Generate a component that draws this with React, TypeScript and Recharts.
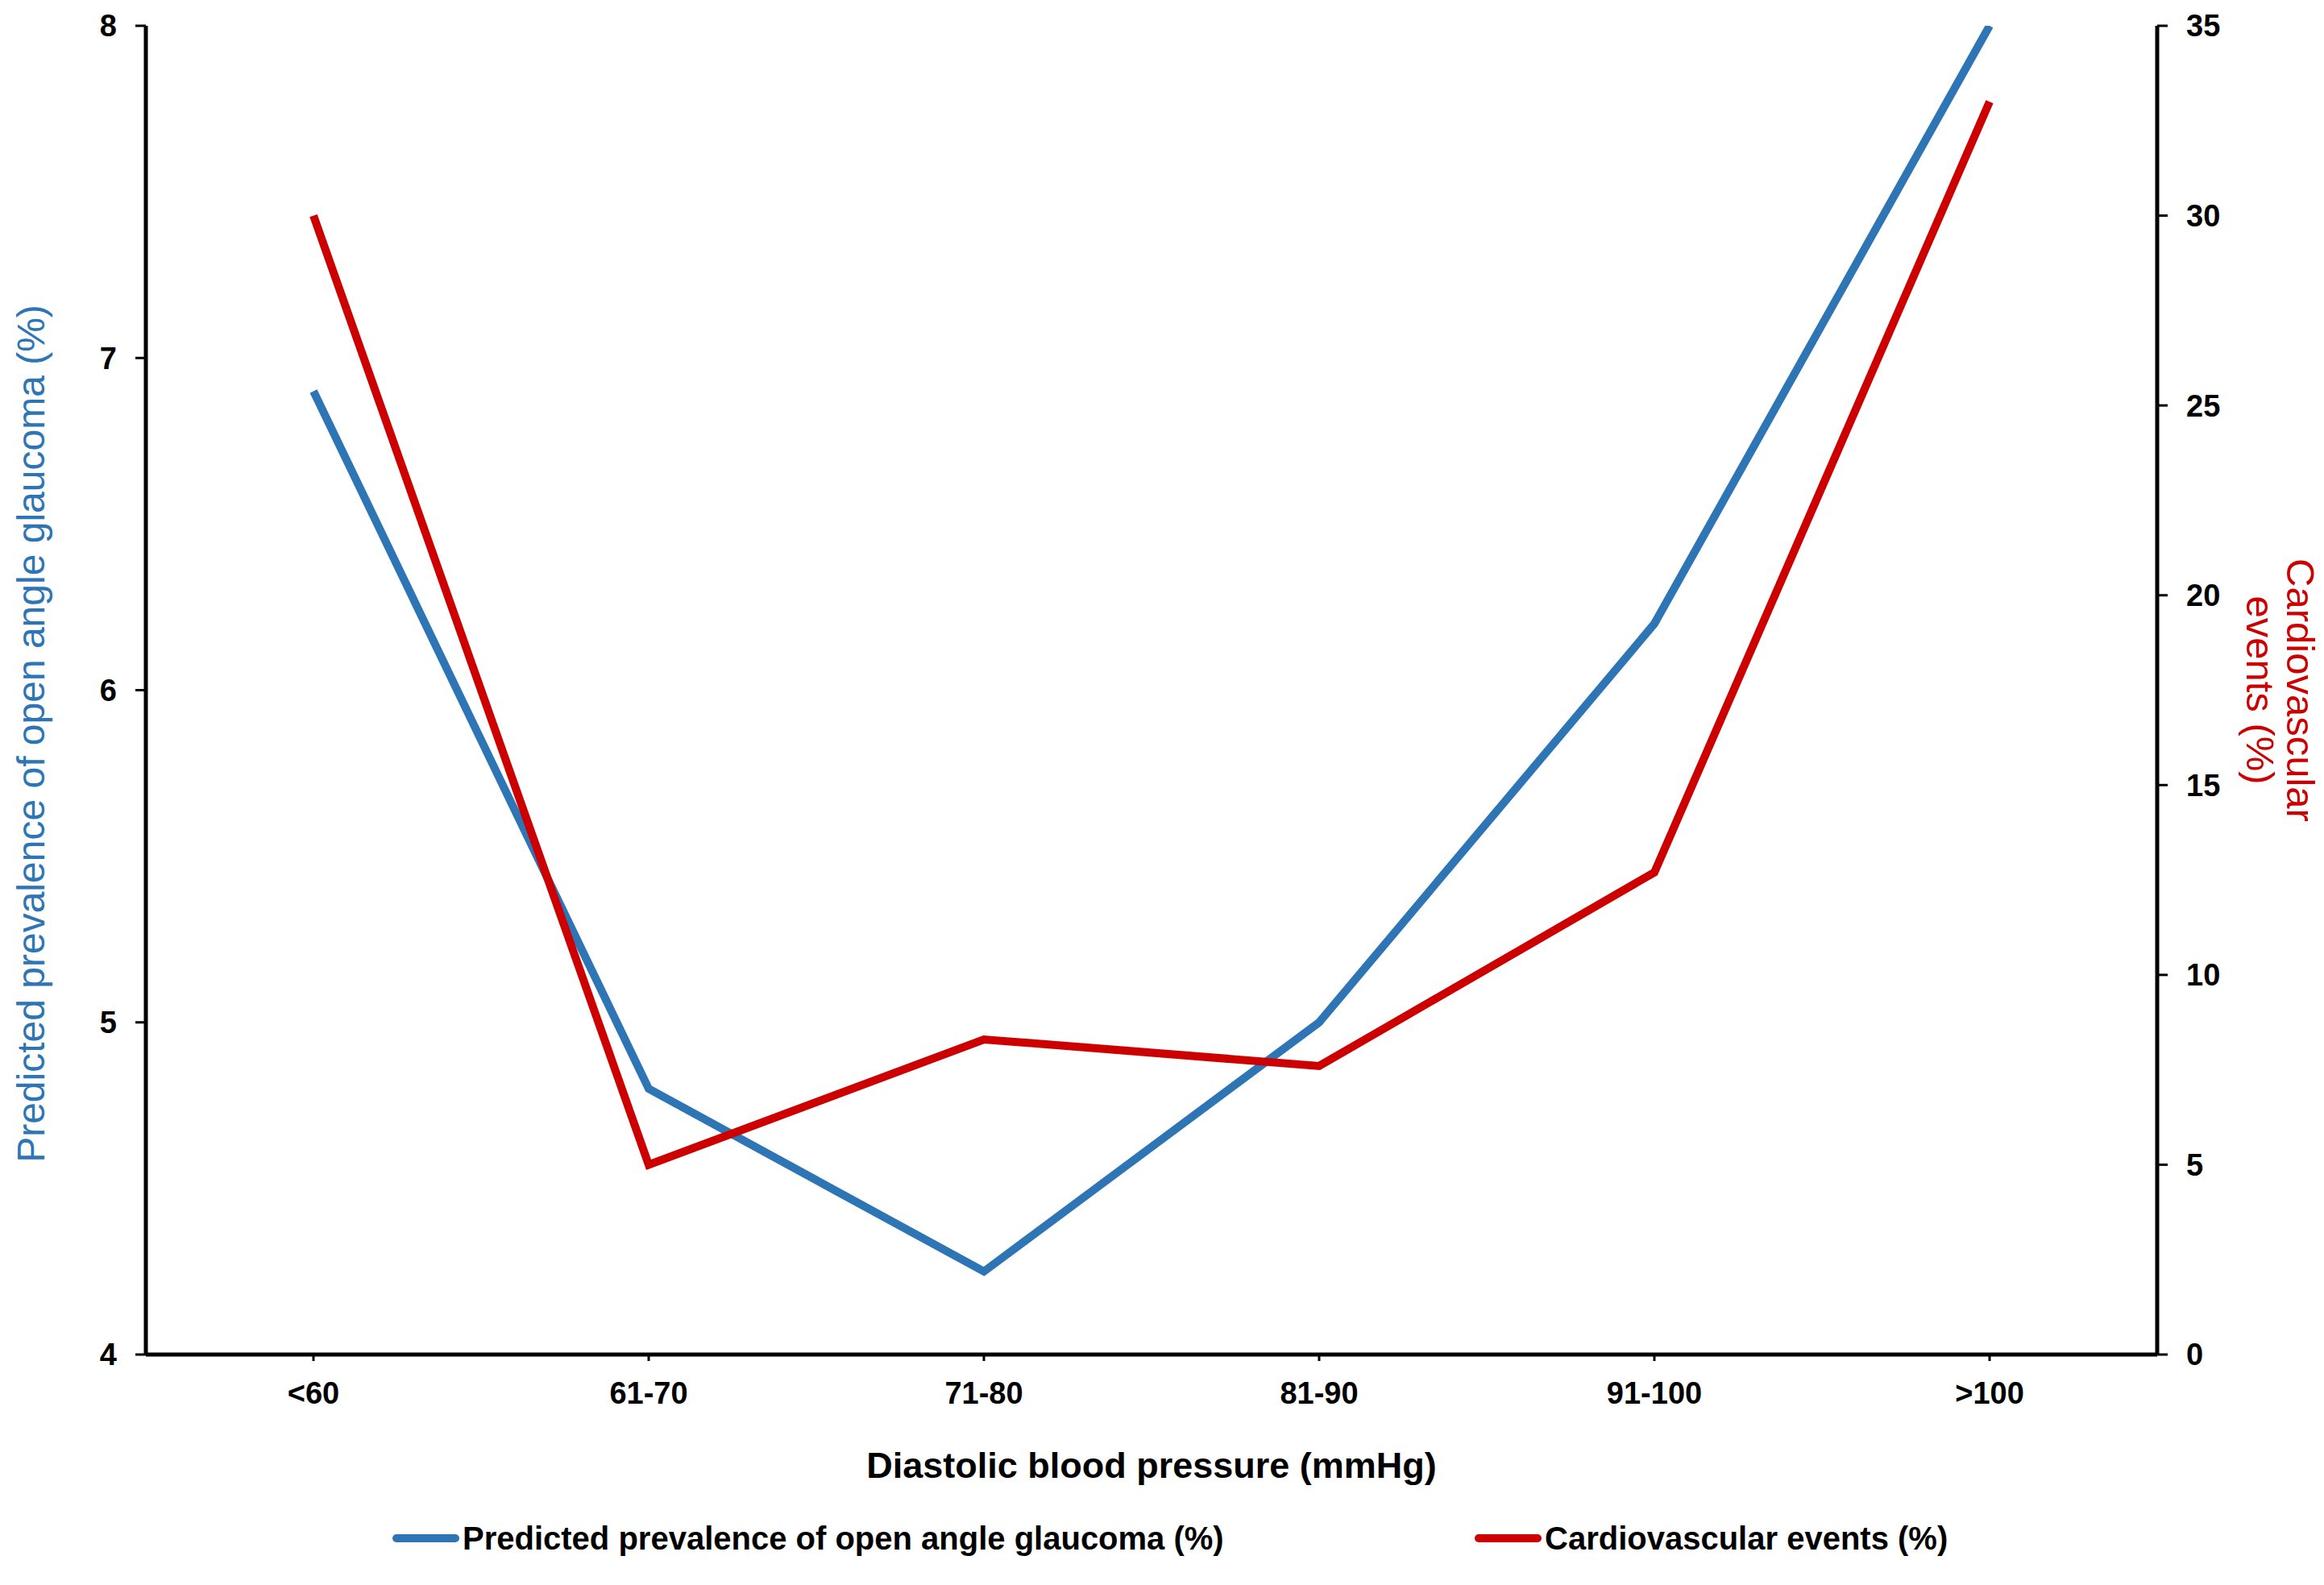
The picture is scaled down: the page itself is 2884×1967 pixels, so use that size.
import React from 'react'
import { LineChart, Line, XAxis, YAxis, Legend, Label } from 'recharts'

const CATEGORIES = ['<60', '61-70', '71-80', '81-90', '91-100', '>100']
const GLAUCOMA = [6.9, 4.8, 4.25, 5.0, 6.2, 8.0]
const CARDIO = [30.0, 5.0, 8.3, 7.6, 12.7, 33.0]
const LEFT_TICKS = [4, 5, 6, 7, 8]
const RIGHT_TICKS = [0, 5, 10, 15, 20, 25, 30, 35]

const GLAUCOMA_NAME = 'Predicted prevalence of open angle glaucoma (%)'
const CARDIO_NAME = 'Cardiovascular events (%)'
const CARDIO_AXIS_LINES = ['Cardiovascular', 'events (%)']
const X_TITLE = 'Diastolic blood pressure (mmHg)'
const LEGEND_ORDER = [GLAUCOMA_NAME, CARDIO_NAME]

const BLUE = '#2E75B6'
const RED = '#CC0000'
const FONT = '"Liberation Sans", Arial, Helvetica, sans-serif'

const chartData = CATEGORIES.map((bp, i) => ({
  bp,
  glaucoma: GLAUCOMA[i],
  cardio: CARDIO[i],
}))

const tickStyle = { fontSize: 38, fontWeight: 'bold', fill: '#000', fontFamily: FONT }

function LeftTitle(props: any) {
  const vb = props.viewBox || {}
  const bx = vb.x + 55
  const cy = vb.y + vb.height / 2 + 54
  return (
    <text
      x={bx}
      y={cy}
      transform={`rotate(-90, ${bx}, ${cy})`}
      textAnchor="middle"
      fill={BLUE}
      fontSize={48}
      fontFamily={FONT}
    >
      {GLAUCOMA_NAME}
    </text>
  )
}

function RightTitle(props: any) {
  const vb = props.viewBox || {}
  const cy = vb.y + vb.height / 2
  const baselines = [vb.x + 161, vb.x + 111]
  return (
    <g>
      {CARDIO_AXIS_LINES.map((line, i) => (
        <text
          key={line}
          x={baselines[i]}
          y={cy}
          transform={`rotate(90, ${baselines[i]}, ${cy})`}
          textAnchor="middle"
          fill={RED}
          fontSize={49}
          fontFamily={FONT}
        >
          {line}
        </text>
      ))}
    </g>
  )
}

const LEGEND_LEFTS = [487, 1830]

function LegendContent({ payload }: any) {
  const items = [...(payload || [])].sort(
    (a: any, b: any) => LEGEND_ORDER.indexOf(a.value) - LEGEND_ORDER.indexOf(b.value)
  )
  return (
    <div style={{ position: 'relative', height: 46, fontFamily: FONT }}>
      {items.map((p: any, i: number) => (
        <div
          key={p.value}
          style={{
            position: 'absolute',
            left: LEGEND_LEFTS[i],
            top: 0,
            height: 46,
            display: 'flex',
            alignItems: 'center',
          }}
        >
          <span
            style={{
              display: 'inline-block',
              width: 83,
              height: 10,
              borderRadius: 5,
              background: p.color,
              marginRight: 4,
            }}
          />
          <span style={{ fontSize: 40, fontWeight: 'bold', color: '#000', whiteSpace: 'nowrap' }}>
            {p.value}
          </span>
        </div>
      ))}
    </div>
  )
}

export default function App() {
  return (
    <div style={{ width: 2884, height: 1967, background: '#fff' }}>
      <style>{'body{margin:0;}'}</style>
      <LineChart
        width={2884}
        height={1967}
        data={chartData}
        margin={{ top: 32, right: 0, bottom: 186, left: 0 }}
      >
        <XAxis
          dataKey="bp"
          scale="band"
          interval={0}
          height={100}
          tick={tickStyle}
          tickSize={8}
          tickMargin={26}
          axisLine={{ stroke: '#000', strokeWidth: 5 }}
          tickLine={{ stroke: '#000', strokeWidth: 3 }}
        >
          <Label
            value={X_TITLE}
            position="bottom"
            offset={21}
            fill="#000"
            fontSize={45}
            fontWeight="bold"
            fontFamily={FONT}
          />
        </XAxis>
        <YAxis
          yAxisId="left"
          orientation="left"
          domain={[4, 8]}
          ticks={LEFT_TICKS}
          allowDataOverflow
          width={181}
          tick={tickStyle}
          tickSize={13}
          tickMargin={23}
          axisLine={{ stroke: '#000', strokeWidth: 5 }}
          tickLine={{ stroke: '#000', strokeWidth: 3 }}
        >
          <Label content={(p: any) => <LeftTitle {...p} />} />
        </YAxis>
        <YAxis
          yAxisId="right"
          orientation="right"
          domain={[0, 35]}
          ticks={RIGHT_TICKS}
          allowDataOverflow
          width={207}
          tick={tickStyle}
          tickSize={13}
          tickMargin={23}
          axisLine={{ stroke: '#000', strokeWidth: 5 }}
          tickLine={{ stroke: '#000', strokeWidth: 3 }}
        >
          <Label content={(p: any) => <RightTitle {...p} />} />
        </YAxis>
        <Legend
          verticalAlign="middle"
          align="center"
          content={<LegendContent />}
          wrapperStyle={{ top: 1886, left: 0, width: 2884 }}
        />
        <Line
          yAxisId="left"
          type="linear"
          dataKey="glaucoma"
          name={GLAUCOMA_NAME}
          stroke={BLUE}
          strokeWidth={10}
          dot={false}
          activeDot={false}
          isAnimationActive={false}
        />
        <Line
          yAxisId="right"
          type="linear"
          dataKey="cardio"
          name={CARDIO_NAME}
          stroke={RED}
          strokeWidth={10}
          dot={false}
          activeDot={false}
          isAnimationActive={false}
        />
      </LineChart>
    </div>
  )
}
